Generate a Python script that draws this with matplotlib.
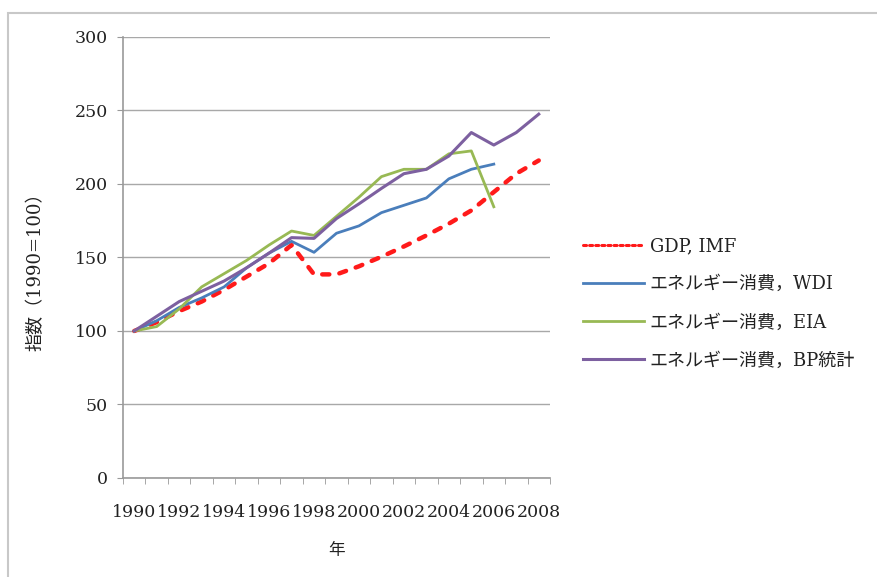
import numpy as np
import matplotlib
matplotlib.use("Agg")
import matplotlib.pyplot as plt
from matplotlib.patches import Rectangle

# ================= DATA =================
years = [str(y) for y in range(1990, 2009)]

gdp_imf = [100, 106, 113.5, 120, 128, 137, 146, 158.5, 138.5, 138.5, 144,
           150.5, 157.5, 165, 173, 182, 194.5, 207, 216]
energy_wdi = [100, 107, 116, 122.5, 130, 143, 153, 161, 153.5, 166.5, 171.5,
              180.5, 185.5, 190.5, 203.5, 210, 213.5]
energy_eia = [100, 103, 115, 130, 139, 148, 158.5, 168, 165, 178, 191,
              205, 210, 210, 220.5, 222.5, 184.5]
energy_bp = [100, 110, 120, 127, 134, 143, 153, 163.5, 163, 176.5, 186.5,
             197, 207, 210, 219, 235, 226.5, 235, 247.5]

labels = ["GDP, IMF", "エネルギー消費，WDI", "エネルギー消費，EIA", "エネルギー消費，BP統計"]
colors = ["#ff1a1a", "#4a7ebb", "#98b954", "#7d60a0"]

yticks = [0, 50, 100, 150, 200, 250, 300]

# ================= FONTS =================
plt.rcParams['font.family'] = ['DejaVu Serif', 'Noto Sans CJK JP']
JP = ['DejaVu Serif', 'Noto Sans CJK JP']
TXT = '#222222'

fig = plt.figure(figsize=(8.78, 5.77), dpi=100)
ax = fig.add_axes([0.1401, 0.1716, 0.4863, 0.7643])

# chart border (only top and left edges fall inside the picture)
top = 1 - 13 / 577
fig.add_artist(Rectangle((8 / 878, -0.2), 1.2, top + 0.2,
                         transform=fig.transFigure, fill=False,
                         edgecolor='#c8c8c8', lw=1.5, clip_on=False))

x = np.arange(len(years))
ax.plot(x[:len(gdp_imf)], gdp_imf, color=colors[0], lw=3.2,
        dashes=(1.6, 2.3), dash_capstyle='round', label=labels[0], zorder=3)
ax.plot(x[:len(energy_wdi)], energy_wdi, color=colors[1], lw=2.0, label=labels[1], zorder=4)
ax.plot(x[:len(energy_eia)], energy_eia, color=colors[2], lw=2.0, label=labels[2], zorder=4)
ax.plot(x[:len(energy_bp)], energy_bp, color=colors[3], lw=2.2, label=labels[3], zorder=5)

ax.set_xlim(-0.5, len(years) - 0.5)
ax.set_ylim(0, 300)
ax.set_yticks(yticks)
ax.set_xticks(x[::2])
ax.set_xticklabels(years[::2])
ax.set_xticks(np.arange(-0.5, len(years), 1.0), minor=True)

ax.tick_params(axis='x', which='major', length=0, pad=19, labelsize=12.5)
ax.tick_params(axis='x', which='minor', length=4, color='#999999', direction='out')
ax.tick_params(axis='y', length=4, color='#999999', pad=7, labelsize=12.5)
for t in ax.get_xticklabels() + ax.get_yticklabels():
    t.set_color(TXT)

ax.grid(True, axis='y', color='#a8a8a8', lw=1.0)
ax.set_axisbelow(True)
for s in ['top', 'right']:
    ax.spines[s].set_visible(False)
for s in ['left', 'bottom']:
    ax.spines[s].set_color('#999999')
    ax.spines[s].set_linewidth(1.2)

ax.set_ylabel("指数（1990=100）", fontsize=13, family=JP, color=TXT)
ax.yaxis.set_label_coords(-0.183, 0.478)
ax.set_xlabel("年", fontsize=12, family=JP, color=TXT)
ax.xaxis.set_label_coords(0.50, -0.145)

leg = ax.legend(loc='upper left', bbox_to_anchor=(583 / 878, 1 - 237 / 577),
                bbox_transform=fig.transFigure, frameon=False, borderpad=0,
                borderaxespad=0, handlelength=3.4, handletextpad=0.3,
                labelspacing=1.12, prop={'family': JP, 'size': 13})
for t in leg.get_texts():
    t.set_color(TXT)
# small dots for the GDP handle, as in the original legend
leg.legend_handles[0].set_linewidth(2.2)
leg.legend_handles[0].set_dashes((1.0, 1.0))

fig.savefig("out.png", dpi=100, facecolor='white')
